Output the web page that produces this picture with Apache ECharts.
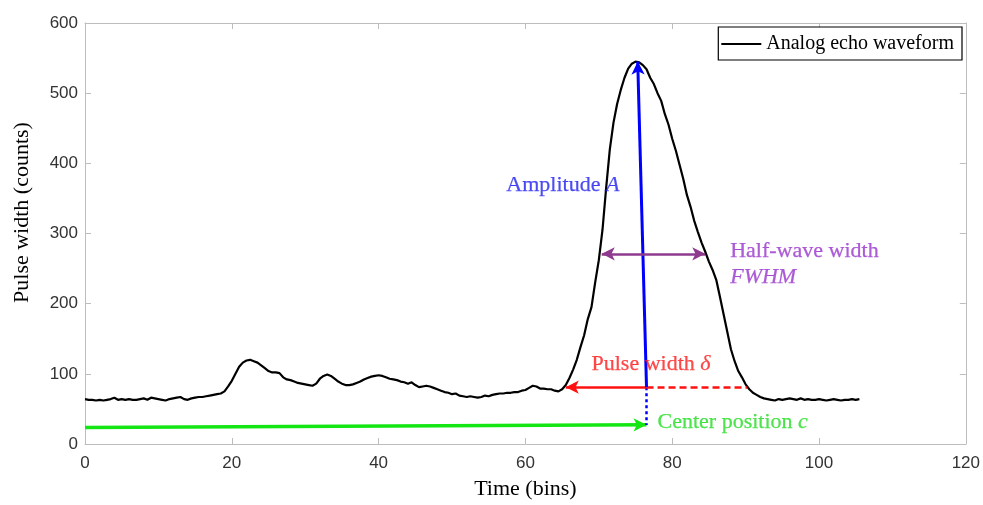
<!DOCTYPE html>
<html>
<head>
<meta charset="utf-8">
<title>Analog echo waveform</title>
<script src="https://cdn.jsdelivr.net/npm/echarts@6/dist/echarts.min.js"></script>
<style>
  html, body { margin: 0; padding: 0; background: #fff; }
  #chart { width: 983px; height: 505px; }
</style>
</head>
<body>
<div id="chart"></div>
<script>
// Sample times (bins), half-bin spacing
const timeBins = [
  0,0.5,1,1.5,2,2.5,3,3.5,4,4.5,5,5.5,6,6.5,7,7.5,8,8.5,9,9.5,
  10,10.5,11,11.5,12,12.5,13,13.5,14,14.5,15,15.5,16,16.5,17,17.5,18,18.5,19,19.5,
  20,20.5,21,21.5,22,22.5,23,23.5,24,24.5,25,25.5,26,26.5,27,27.5,28,28.5,29,29.5,
  30,30.5,31,31.5,32,32.5,33,33.5,34,34.5,35,35.5,36,36.5,37,37.5,38,38.5,39,39.5,
  40,40.5,41,41.5,42,42.5,43,43.5,44,44.5,45,45.5,46,46.5,47,47.5,48,48.5,49,49.5,
  50,50.5,51,51.5,52,52.5,53,53.5,54,54.5,55,55.5,56,56.5,57,57.5,58,58.5,59,59.5,
  60,60.5,61,61.5,62,62.5,63,63.5,64,64.5,65,65.5,66,66.5,67,67.5,68,68.5,69,69.5,
  70,70.5,71,71.5,72,72.5,73,73.5,74,74.5,75,75.5,76,76.5,77,77.5,78,78.5,79,79.5,
  80,80.5,81,81.5,82,82.5,83,83.5,84,84.5,85,85.5,86,86.5,87,87.5,88,88.5,89,89.5,
  90,90.5,91,91.5,92,92.5,93,93.5,94,94.5,95,95.5,96,96.5,97,97.5,98,98.5,99,99.5,
  100,100.5,101,101.5,102,102.5,103,103.5,104,104.5,105,105.5
];

// Echo intensity (counts) at each sample time
const echoCounts = [
  64,63,63,62,63,62,63,64,66,63,64,63,64,63,63,64,65,63,66,65,
  64,63,62,64,65,66,67,64,63,65,66,67,67,68,69,70,71,72,75,82,
  90,100,110,116,119,120,118,116,112,108,104,102,102,101,95,92,91,89,87,86,
  85,84,83,86,93,97,99,97,93,89,86,84,84,85,87,89,92,94,96,97,
  98,97,95,93,92,91,89,88,86,88,84,81,82,83,82,80,78,76,74,73,
  71,72,69,68,67,68,67,66,67,69,68,70,71,72,72,73,73,74,74,76,
  77,80,83,82,79,79,78,78,76,75,78,84,94,106,120,138,155,178,195,230,
  262,305,365,420,458,485,505,522,535,542,545,544,540,534,522,513,500,489,470,455,
  435,418,398,378,355,338,318,302,287,274,260,248,234,210,185,160,135,118,104,95,
  85,78,73,70,67,65,64,63,62,64,63,64,65,64,63,65,63,64,63,63,
  64,63,62,63,64,63,62,63,63,64,63,64
];

// Axis ticks
const xTicks = { min: 0, max: 120, step: 20 };
const yTicks = { min: 0, max: 600, step: 100 };

// Annotation geometry in data units [time, counts]
const amplitudeArrow = [[76.5, 81], [75.3, 545]];
const amplitudeDrop = [[76.5, 81], [76.5, 27]];
const pulseArrow = [[76.5, 81], [65.5, 81]];
const pulseDashed = [[76.5, 81], [90.2, 81]];
const fwhmArrow = [[70.4, 271], [84.5, 271]];
const centerArrow = [[0, 23.6], [76.5, 27.4]];

// Annotation text anchors [time, counts]
const amplitudeLabelAt = [57.4, 369];
const fwhmLabelAt = [87.9, 275];
const fwhmAbbrevAt = [87.9, 237];
const pulseLabelAt = [69.0, 114];
const centerLabelAt = [78.0, 31.5];

const serif = '"Liberation Serif", "Times New Roman", serif';
const sans = '"Liberation Sans", Arial, Helvetica, sans-serif';
const axisGray = '#bdbdbd';

const BLUE = '#0000ff', RED = '#ff1010', GREEN = '#14e614', PURPLE = '#8e3a8e';

const waveform = timeBins.map((t, i) => [t, echoCounts[i]]);

function seg(pts, color, width, type, startSym, endSym) {
  return [
    { coord: pts[0], symbol: startSym, symbolSize: [10, 13],
      lineStyle: { color: color, width: width, type: type }, itemStyle: { color: color } },
    { coord: pts[1], symbol: endSym, symbolSize: [10, 13], itemStyle: { color: color } }
  ];
}

function richText(color) {
  const base = { color: color, fontFamily: serif, fontSize: 22,
                 textBorderColor: color, textBorderWidth: 0.25 };
  return {
    n: Object.assign({}, base),
    i: Object.assign({ fontStyle: 'italic' }, base)
  };
}

function note(at, text, color) {
  return {
    value: at,
    label: { formatter: text, rich: richText(color) }
  };
}

const chart = echarts.init(document.getElementById('chart'), null, { renderer: 'canvas' });

chart.setOption({
  animation: false,
  backgroundColor: '#fff',
  grid: { left: 85, right: 15, top: 23, bottom: 55.5, containLabel: false },
  legend: {
    data: ['Analog echo waveform'],
    right: 21, top: 27,
    orient: 'horizontal',
    borderColor: '#000', borderWidth: 1.2, borderRadius: 0,
    padding: [7, 8, 6, 3],
    icon: 'rect', itemWidth: 40, itemHeight: 2,
    textStyle: { fontFamily: serif, fontSize: 20, color: '#000' },
    backgroundColor: '#fff'
  },
  xAxis: [{
    type: 'value', min: xTicks.min, max: xTicks.max, interval: xTicks.step,
    name: 'Time (bins)', nameLocation: 'middle', nameGap: 34,
    nameTextStyle: { fontFamily: serif, fontSize: 22, color: '#000' },
    axisLine: { show: true, onZero: false, lineStyle: { color: axisGray, width: 1 } },
    axisTick: { show: true, inside: true, length: 6, lineStyle: { color: axisGray } },
    axisLabel: { fontFamily: sans, fontSize: 17, color: '#333', margin: 11 },
    splitLine: { show: false }
  }, {
    type: 'value', position: 'top', min: xTicks.min, max: xTicks.max, interval: xTicks.step,
    axisLine: { show: true, onZero: false, lineStyle: { color: axisGray, width: 1 } },
    axisTick: { show: true, inside: true, length: 6, lineStyle: { color: axisGray } },
    axisLabel: { show: false },
    splitLine: { show: false }
  }],
  yAxis: [{
    type: 'value', min: yTicks.min, max: yTicks.max, interval: yTicks.step,
    name: 'Pulse width (counts)', nameLocation: 'middle', nameGap: 52, nameRotate: 90,
    nameTextStyle: { fontFamily: serif, fontSize: 22, color: '#000', padding: [0, 0, 0, 42] },
    axisLine: { show: true, onZero: false, lineStyle: { color: axisGray, width: 1 } },
    axisTick: { show: true, inside: true, length: 6, lineStyle: { color: axisGray } },
    axisLabel: { fontFamily: sans, fontSize: 17, color: '#333', margin: 7 },
    splitLine: { show: false }
  }, {
    type: 'value', position: 'right', min: yTicks.min, max: yTicks.max, interval: yTicks.step,
    axisLine: { show: true, onZero: false, lineStyle: { color: axisGray, width: 1 } },
    axisTick: { show: true, inside: true, length: 6, lineStyle: { color: axisGray } },
    axisLabel: { show: false },
    splitLine: { show: false }
  }],
  series: [{
    name: 'Analog echo waveform',
    type: 'line',
    data: waveform,
    showSymbol: false,
    symbol: 'none',
    smooth: false,
    lineStyle: { color: '#000', width: 2.2 },
    itemStyle: { color: '#000' },
    z: 3,
    markLine: {
      silent: true,
      animation: false,
      label: { show: false },
      emphasis: { disabled: true },
      data: [
        seg(centerArrow, GREEN, 3.5, 'solid', 'none', 'arrow'),
        seg(amplitudeDrop, BLUE, 2.5, [3, 3], 'none', 'none'),
        seg(pulseDashed, RED, 2.5, [7, 4], 'none', 'none'),
        seg(pulseArrow, RED, 2.5, 'solid', 'none', 'arrow'),
        seg(amplitudeArrow, BLUE, 3, 'solid', 'none', 'arrow'),
        seg(fwhmArrow, PURPLE, 2.5, 'solid', 'arrow', 'arrow')
      ]
    }
  }, {
    name: 'notes',
    type: 'scatter',
    silent: true,
    symbolSize: 0,
    z: 5,
    label: { show: true, position: 'right', distance: 0 },
    data: [
      note(amplitudeLabelAt, '{n|Amplitude }{i|A}', '#1f1ff0'),
      note(fwhmLabelAt, '{n|Half-wave width}', '#9933cc'),
      note(fwhmAbbrevAt, '{i|FWHM}', '#9933cc'),
      note(pulseLabelAt, '{n|Pulse width }{i|δ}', '#ff1a1a'),
      note(centerLabelAt, '{n|Center position }{i|c}', '#22dd22')
    ]
  }]
});
</script>
</body>
</html>
